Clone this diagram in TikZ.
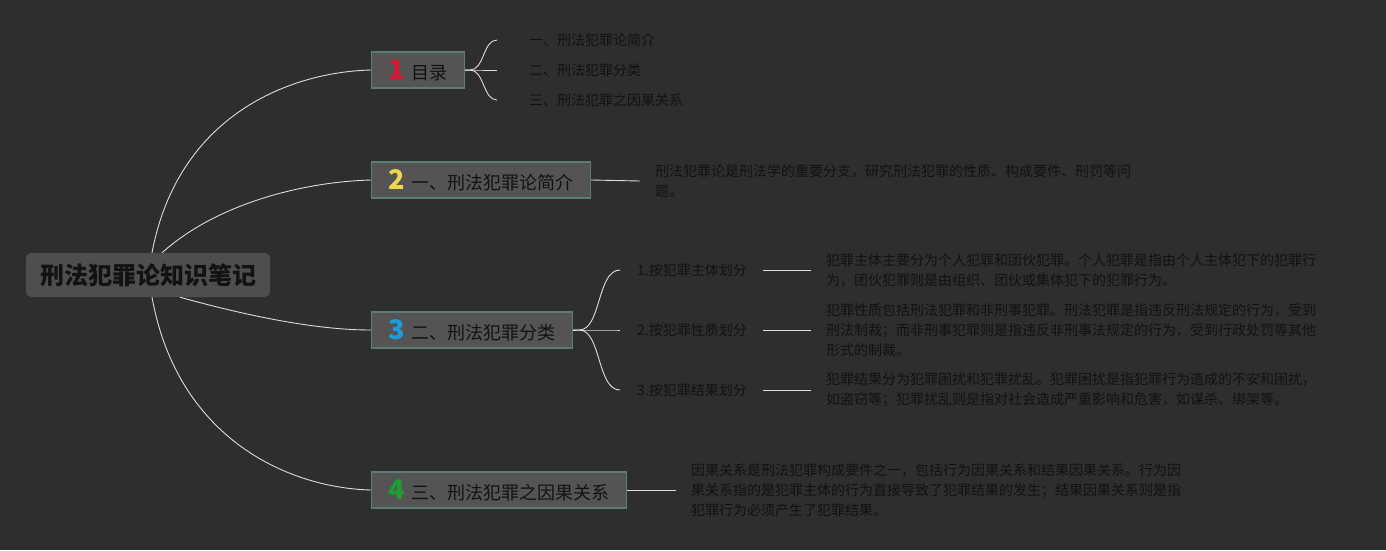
\documentclass[tikz,border=0pt]{standalone}
\usepackage{fontspec}
\setmainfont{Noto Sans CJK SC}
\usepackage{xcolor}
\usepackage{tikz}
\usetikzlibrary{positioning}
\definecolor{bgcol}{HTML}{2E2E2E}
\definecolor{rootfill}{HTML}{4E4E4E}
\definecolor{topicfill}{HTML}{545454}
\definecolor{topicline}{HTML}{5C7D73}
\definecolor{linkcol}{HTML}{DDDDDD}
\definecolor{txt}{HTML}{121212}
\definecolor{numa}{HTML}{D8182C}
\definecolor{numb}{HTML}{F2D64A}
\definecolor{numc}{HTML}{1E9BDB}
\definecolor{numd}{HTML}{19A031}
\newcommand{\topicnum}[2]{{\fontsize{27}{27}\selectfont\bfseries\color{#1}#2}\hspace{7pt}}

\begin{document}
\begin{tikzpicture}[x=1pt,y=-1pt]
	\tikzstyle{RootStyle}  = [fill=rootfill, rounded corners=5pt, minimum width=244pt, minimum height=44pt, text=txt, font=\fontsize{24}{28}\selectfont\bfseries]
	\tikzstyle{TopicStyle} = [fill=topicfill, draw=topicline, line width=1.2pt, minimum height=36pt, inner xsep=0pt, text=txt, font=\fontsize{18}{22}\selectfont]
	\tikzstyle{LeafStyle}  = [anchor=west, inner sep=0pt, text=txt, align=left, font=\fontsize{14}{20}\selectfont]
	\tikzstyle{LinkStyle}  = [draw=linkcol, line width=0.9pt]
	% background and page size
	\fill[bgcol] (0,0) rectangle (1386,550);
	\useasboundingbox (0,0) rectangle (1386,550);
	% root and main topics
	\node[RootStyle] (root) at (148,275) {刑法犯罪论知识笔记};
	\node[TopicStyle, anchor=west, minimum width=93pt]  (t1) at (371,70)  {\topicnum{numa}{1}目录};
	\node[TopicStyle, anchor=west, minimum width=219pt] (t2) at (371,180) {\topicnum{numb}{2}一、刑法犯罪论简介};
	\node[TopicStyle, anchor=west, minimum width=201pt] (t3) at (371,330) {\topicnum{numc}{3}二、刑法犯罪分类};
	\node[TopicStyle, anchor=west, minimum width=255pt] (t4) at (371,490) {\topicnum{numd}{4}三、刑法犯罪之因果关系};
	\draw[LinkStyle] ([xshift=4pt]root.north) .. controls (178,115) and (290,72) .. (t1.west);
	\draw[LinkStyle] ([xshift=14pt]root.north) .. controls (215,205) and (300,182) .. (t2.west);
	\draw[LinkStyle] ([xshift=32pt]root.south) .. controls (255,318) and (320,330) .. (t3.west);
	\draw[LinkStyle] ([xshift=4pt]root.south) .. controls (178,440) and (290,488) .. (t4.west);
	% table of contents
	\node[LeafStyle] (c1) at (529,40)  {一、刑法犯罪论简介};
	\node[LeafStyle] (c2) at (529,70)  {二、刑法犯罪分类};
	\node[LeafStyle] (c3) at (529,100) {三、刑法犯罪之因果关系};
	\foreach \c in {c1,c2,c3}
		\draw[LinkStyle] (t1.east) -- ++(5,0) .. controls +(14,0) and ([xshift=-46pt]\c.west) .. ([xshift=-32pt]\c.west);
	% intro
	\node[LeafStyle] (d2) at (655,181) {刑法犯罪论是刑法学的重要分支，研究刑法犯罪的性质、构成要件、刑罚等问\\题。};
	\draw[LinkStyle] (t2.east) -- ([xshift=-15pt]d2.west);
	% classification
	\node[LeafStyle] (s1) at (637,270) {1.按犯罪主体划分};
	\node[LeafStyle] (s2) at (637,330) {2.按犯罪性质划分};
	\node[LeafStyle] (s3) at (637,390) {3.按犯罪结果划分};
	\foreach \s in {s1,s2,s3}
		\draw[LinkStyle] (t3.east) -- ++(6,0) .. controls +(22,0) and ([xshift=-40pt]\s.west) .. ([xshift=-17pt]\s.west);
	\node[LeafStyle] (d31) at (826,270) {犯罪主体主要分为个人犯罪和团伙犯罪。个人犯罪是指由个人主体犯下的犯罪行\\为，团伙犯罪则是由组织、团伙或集体犯下的犯罪行为。};
	\node[LeafStyle] (d32) at (826,330) {犯罪性质包括刑法犯罪和非刑事犯罪。刑法犯罪是指违反刑法规定的行为，受到\\刑法制裁；而非刑事犯罪则是指违反非刑事法规定的行为，受到行政处罚等其他\\形式的制裁。};
	\node[LeafStyle] (d33) at (826,390) {犯罪结果分为犯罪困扰和犯罪扰乱。犯罪困扰是指犯罪行为造成的不安和困扰，\\如盗窃等；犯罪扰乱则是指对社会造成严重影响和危害，如谋杀、绑架等。};
	\draw[LinkStyle] ([xshift=16pt]s1.east) -- ([xshift=-15pt]d31.west);
	\draw[LinkStyle] ([xshift=16pt]s2.east) -- ([xshift=-15pt]d32.west);
	\draw[LinkStyle] ([xshift=16pt]s3.east) -- ([xshift=-15pt]d33.west);
	% causality
	\node[LeafStyle] (d4) at (691,490) {因果关系是刑法犯罪构成要件之一，包括行为因果关系和结果因果关系。行为因\\果关系指的是犯罪主体的行为直接导致了犯罪结果的发生；结果因果关系则是指\\犯罪行为必须产生了犯罪结果。};
	\draw[LinkStyle] (t4.east) -- ([xshift=-15pt]d4.west);
\end{tikzpicture}
\end{document}
